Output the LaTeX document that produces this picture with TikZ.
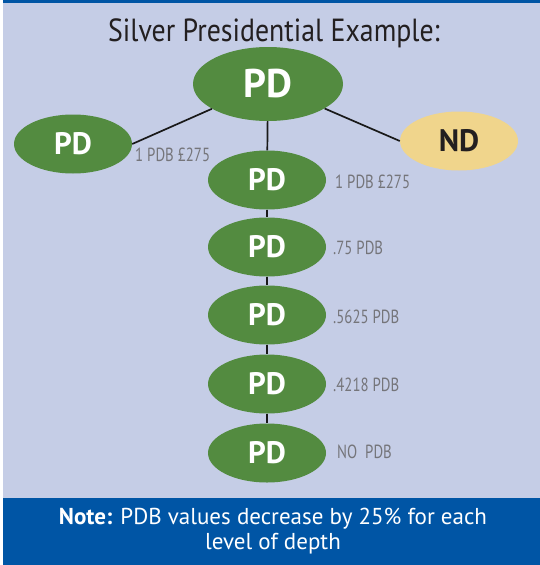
\documentclass[tikz,border=0pt]{standalone}
\usepackage{fontspec}
\setmainfont{PT Sans}
\newfontfamily\labelfont[FakeStretch=0.78]{PT Sans}
\newfontfamily\titlefont[FakeStretch=0.87]{PT Sans}
\usetikzlibrary{shapes.geometric}
\definecolor{bgpanel}{HTML}{C5CDE6}
\definecolor{barblue}{HTML}{0055A5}
\definecolor{pdgreen}{HTML}{538B40}
\definecolor{ndyellow}{HTML}{F0D58C}
\definecolor{labelgray}{HTML}{75757A}
\definecolor{titleink}{HTML}{231F20}
\tikzset{
  pdnode/.style={ellipse, fill=pdgreen, draw=none, inner sep=0pt,
    minimum width=118pt, minimum height=59pt, text=white,
    font=\fontsize{31}{31}\selectfont\bfseries},
  ndnode/.style={pdnode, fill=ndyellow, text=titleink},
  link/.style={draw=black!90, line width=1.7pt},
  pdb/.style={anchor=west, inner sep=0pt, text=labelgray,
    font=\labelfont\fontsize{19}{19}\selectfont}
}
\begin{document}
\begin{tikzpicture}[x=1pt, y=-1pt]
  \useasboundingbox (0,0) rectangle (540,565);
  % page, panel and bars
  \fill[white] (0,0) rectangle (540,565);
  \fill[bgpanel] (3,0) rectangle (540,498);
  \fill[barblue] (3,0) rectangle (540,3);
  \fill[barblue] (3,498) rectangle (540,565);

  % title
  \node[text=titleink, font=\titlefont\fontsize{32}{32}\selectfont, inner sep=0pt]
    (title) at (274,33) {Silver Presidential Example:};

  % tree nodes
  \node[pdnode, minimum width=150pt, minimum height=74pt,
        font=\fontsize{40}{40}\selectfont\bfseries] (top) at (268,84) {PD};
  \node[pdnode] (left) at (73,144) {PD};
  \node[ndnode] (nd) at (459,141) {ND};
  \node[pdnode] (r2) at (267,180) {PD};
  \node[pdnode] (r3) at (267,247) {PD};
  \node[pdnode] (r4) at (267,315) {PD};
  \node[pdnode] (r5) at (267,384) {PD};
  \node[pdnode] (r6) at (267,453) {PD};

  % connectors
  \draw[link] (top) -- (left.east);
  \draw[link] (top) -- (nd.west);
  \draw[link] (top) -- (r2);
  \draw[link] (r2) -- (r3);
  \draw[link] (r3) -- (r4);
  \draw[link] (r4) -- (r5);
  \draw[link] (r5) -- (r6);

  % value labels
  \node[pdb] (lleft) at (135,155) {1 PDB £275};
  \node[pdb] (l2) at (335,182) {1 PDB £275};
  \node[pdb] (l3) at (333,248) {.75 PDB};
  \node[pdb] (l4) at (333,317) {.5625 PDB};
  \node[pdb] (l5) at (333,385) {.4218 PDB};
  \node[pdb] (l6) at (337,452) {NO\ \ PDB};

  % note
  \node[text=white, align=center, inner sep=0pt,
        font=\fontsize{23}{25}\selectfont] (note) at (273,531)
    {\textbf{Note:} PDB values decrease by 25\% for each\\level of depth};
\end{tikzpicture}
\end{document}
